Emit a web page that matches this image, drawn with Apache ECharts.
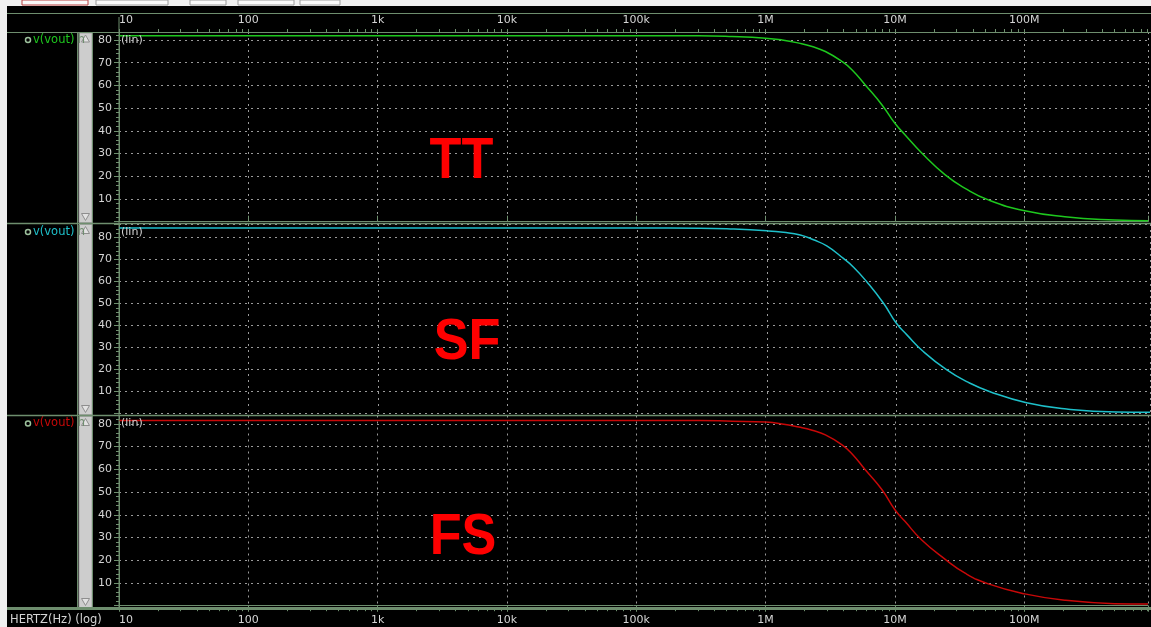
<!DOCTYPE html>
<html>
<head>
<meta charset="utf-8">
<title>v(vout) TT / SF / FS</title>
<script src="https://cdn.jsdelivr.net/npm/echarts@6/dist/echarts.min.js"></script>
<style>
html, body { margin: 0; padding: 0; background: #000; }
#main { width: 1151px; height: 627px; }
</style>
</head>
<body>
<div id="main"></div>
<script>
// frequency points (Hz), shared by the three corners
var freq = [10, 1e5, 3.05e5, 5.52e5, 1e6, 1.34e6, 1.81e6, 2.29e6, 2.9e6, 3.9e6, 4.67e6, 5.9e6, 7.95e6, 1e7, 1.2e7, 1.62e7, 2.45e7, 3.49e7, 5.28e7, 1.01e8, 2.06e8, 5.0e8, 9.06e8];
var vTT = [81.8, 81.8, 81.8, 81.5, 80.8, 80.0, 78.6, 77.1, 74.9, 70.5, 66.8, 60.2, 51.4, 43.3, 38.2, 30.1, 20.6, 14.7, 9.6, 4.8, 2.2, 0.75, 0.4];
var vSF = [84.4, 84.4, 84.3, 83.9, 83.1, 82.4, 81.2, 79.0, 76.2, 70.5, 66.5, 59.9, 50.1, 41.0, 35.8, 28.0, 19.7, 14.4, 9.8, 4.8, 1.9, 0.5, 0.4];
var vFS = [81.5, 81.5, 81.5, 81.2, 80.8, 80.0, 78.6, 77.2, 75.2, 70.8, 66.8, 59.8, 51.0, 42.2, 37.0, 28.8, 20.4, 14.3, 9.6, 5.2, 2.4, 0.9, 0.7];

var decadeLabels = ['10', '100', '1k', '10k', '100k', '1M', '10M', '100M'];
var cornerNames = ['TT', 'SF', 'FS'];
var traceName = 'v(vout)';

var FRAME = '#6e8e6e';
var TXT = '#d4d4d4';
var GRIDC = '#9a9a9a';
var FONT = 'DejaVu Sans';
var colors = ['#1ec81e', '#1ec0ca', '#c80808'];

// panel layout (pixels)
var panelTop = [32, 224, 415.5];
var panelZero = [221.7, 413.2, 605.7];
var panelMax = [83.5, 86.2, 83.7];
var panelEnd = [223.5, 415.5, 608.5];
var XMIN = 10, XMAX = 9.06e8;

var minorTicks = [];
for (var d = 1; d <= 8; d++) {
    for (var m = 1; m <= 9; m++) {
        var t = m * Math.pow(10, d);
        if (t <= XMAX) minorTicks.push(t);
    }
}

function freqLabel(v) {
    var e = Math.log10(v);
    var r = Math.round(e);
    if (Math.abs(e - r) > 1e-6) return '';
    return decadeLabels[r - 1] || '';
}

var grids = [], xAxes = [], yAxes = [], series = [];
var allData = [vTT, vSF, vFS];

for (var i = 0; i < 3; i++) {
    grids.push({ left: 119, right: 1, top: panelTop[i], height: panelZero[i] - panelTop[i] });
    var showX = i !== 1;
    xAxes.push({
        type: 'log', logBase: 10, gridIndex: i, min: XMIN, max: XMAX,
        position: i === 2 ? 'bottom' : 'top',
        offset: i === 2 ? 2.5 : 0,
        axisLine: { show: showX, lineStyle: { color: FRAME, width: 1 } },
        axisTick: { show: showX, length: 6, lineStyle: { color: FRAME } },
        axisLabel: {
            show: showX, color: TXT, fontSize: 11, fontFamily: FONT, margin: 6,
            formatter: freqLabel, alignMinLabel: 'left'
        },
        splitLine: { show: true, lineStyle: { color: GRIDC, type: [2, 4], width: 1 } }
    });
    yAxes.push({
        type: 'value', gridIndex: i, min: 0, max: panelMax[i], interval: 10,
        axisLine: { show: true, lineStyle: { color: FRAME } },
        axisTick: { show: true, length: 5, lineStyle: { color: FRAME } },
        minorTick: { show: true, splitNumber: 5, length: 3, lineStyle: { color: FRAME } },
        axisLabel: {
            color: TXT, fontSize: 11, fontFamily: FONT, margin: 7,
            formatter: function (v) { return (v > 0 && Math.abs(v % 10) < 1e-9) ? String(v) : ''; }
        },
        splitLine: { show: true, lineStyle: { color: GRIDC, type: [2, 4], width: 1 } }
    });
    series.push({
        name: cornerNames[i], type: 'line', xAxisIndex: i, yAxisIndex: i,
        data: freq.map(function (f, k) { return [f, allData[i][k]]; }),
        showSymbol: false, smooth: 0.5,
        lineStyle: { color: colors[i], width: 1.5 }, z: 5
    });
}

// short minor ticks (2..9 per decade) on top and bottom axes
[0, 2].forEach(function (g) {
    xAxes.push({
        type: 'log', logBase: 10, gridIndex: g, min: XMIN, max: XMAX,
        position: g === 2 ? 'bottom' : 'top', offset: g === 2 ? 2.5 : 0,
        axisLine: { show: false },
        axisTick: { show: true, length: 3, customValues: minorTicks, lineStyle: { color: FRAME } },
        axisLabel: { show: false },
        splitLine: { show: false }
    });
});

var gfx = [];
function hline(y, x1, x2, w) {
    gfx.push({ type: 'line', z: 100, shape: { x1: x1, y1: y, x2: x2, y2: y }, style: { stroke: FRAME, lineWidth: w || 1 } });
}
function vline(x, y1, y2, w) {
    gfx.push({ type: 'line', z: 100, shape: { x1: x, y1: y1, x2: x, y2: y2 }, style: { stroke: FRAME, lineWidth: w || 1 } });
}

// toolbar strip and left margin
gfx.push({ type: 'rect', z: 90, shape: { x: 0, y: 0, width: 1151, height: 6 }, style: { fill: '#f0f0f0' } });
gfx.push({ type: 'rect', z: 90, shape: { x: 0, y: 0, width: 7, height: 627 }, style: { fill: '#f0f0f0' } });
[[22, 66, '#b84040'], [96, 72, '#9a9a9a'], [190, 36, '#9a9a9a'], [238, 56, '#9a9a9a'], [300, 40, '#a0a0a0']].forEach(function (b) {
    gfx.push({ type: 'rect', z: 91, shape: { x: b[0], y: 0, width: b[1], height: 5 }, style: { fill: '#fafafa', stroke: b[2], lineWidth: 1 } });
});

// scrollbars and trace labels
for (var p = 0; p < 3; p++) {
    var t0 = p === 0 ? 32 : panelEnd[p - 1];
    var b0 = panelEnd[p];
    gfx.push({ type: 'rect', z: 95, shape: { x: 79, y: t0 + 1, width: 13, height: b0 - t0 - 2 }, style: { fill: '#cdcdcd', stroke: '#a6a6a6', lineWidth: 1 } });
    gfx.push({ type: 'polygon', z: 96, shape: { points: [[85.5, t0 + 3], [81.5, t0 + 10], [89.5, t0 + 10]] }, style: { fill: '#e2e2e2', stroke: '#8e8e8e', lineWidth: 1 } });
    gfx.push({ type: 'polygon', z: 96, shape: { points: [[85.5, b0 - 3], [81.5, b0 - 10], [89.5, b0 - 10]] }, style: { fill: '#e2e2e2', stroke: '#8e8e8e', lineWidth: 1 } });

    var ly = panelTop[p] + 8;
    gfx.push({ type: 'circle', z: 100, shape: { cx: 28, cy: ly, r: 2.5 }, style: { fill: 'none', stroke: '#9cc09c', lineWidth: 1.5 } });
    gfx.push({
        type: 'text', z: 100, x: 33, y: ly,
        style: {
            text: '{a|' + traceName + '} {b|h}', verticalAlign: 'middle',
            rich: {
                a: { fill: colors[p], fontSize: 11.5, fontFamily: FONT },
                b: { fill: FRAME, fontSize: 11.5, fontFamily: FONT }
            }
        }
    });
    gfx.push({ type: 'text', z: 100, x: 121, y: ly, style: { text: '(lin)', fill: TXT, fontSize: 11, fontFamily: FONT, verticalAlign: 'middle' } });
}

// frame lines
hline(13.5, 7, 1151);
hline(32.5, 7, 1151);
hline(223.5, 7, 1151, 1.5);
hline(415.5, 7, 1151, 1.5);
hline(608.5, 7, 1151, 3);
vline(77.5, 32, 608);
vline(92.5, 32, 608);
vline(119, 17, 608);

// corner annotations
var annPos = [[461.5, 161.5], [467, 342.5], [463, 538]];
cornerNames.forEach(function (c, k) {
    gfx.push({
        type: 'text', z: 110, x: annPos[k][0], y: annPos[k][1], scaleX: 0.9,
        style: { text: c, fill: '#ff0000', fontSize: 58, fontWeight: 'bold', fontFamily: 'Liberation Sans', align: 'center', verticalAlign: 'middle' }
    });
});

gfx.push({ type: 'text', z: 100, x: 10, y: 620, style: { text: 'HERTZ(Hz) (log)', fill: TXT, fontSize: 11.5, fontFamily: FONT, verticalAlign: 'middle' } });

var myChart = echarts.init(document.getElementById('main'));
var option = {
    backgroundColor: '#000',
    animation: false,
    grid: grids,
    xAxis: xAxes,
    yAxis: yAxes,
    series: series,
    graphic: { elements: gfx }
};
myChart.setOption(option);
</script>
</body>
</html>
